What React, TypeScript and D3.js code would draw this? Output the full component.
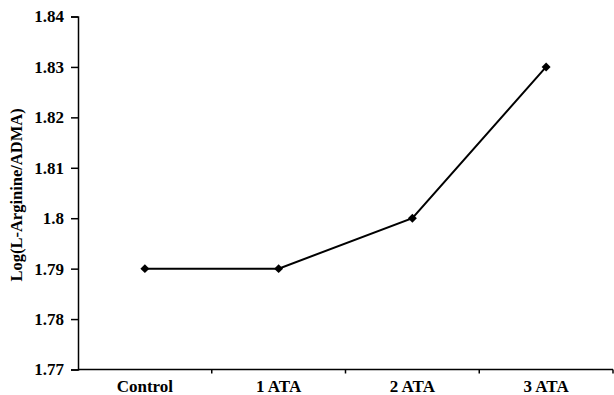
import React, { useEffect, useRef } from "react";
import * as d3 from "d3";

const categories = ["Control", "1 ATA", "2 ATA", "3 ATA"];
const values = [1.79, 1.79, 1.8, 1.83];
const yTicks = [1.77, 1.78, 1.79, 1.8, 1.81, 1.82, 1.83, 1.84];

const App = () => {
  const ref = useRef<SVGSVGElement>(null);

  useEffect(() => {
    const width = 614;
    const height = 395;
    const left = 78;
    const right = 613;
    const top = 16.5;
    const bottom = 369.5;
    const font = "'Liberation Serif', 'Times New Roman', serif";

    const svg = d3.select(ref.current);
    svg.selectAll("*").remove();
    svg.attr("width", width).attr("height", height);

    const x = d3.scaleBand().domain(categories).range([left, right]);
    const y = d3.scaleLinear().domain([1.77, 1.84]).range([bottom, top]);

    // y axis
    const yAxis = svg
      .append("g")
      .attr("transform", "translate(" + left + ",0)")
      .call(
        d3.axisLeft(y)
          .tickValues(yTicks)
          .tickSize(7)
          .tickPadding(7)
          .tickFormat((d) => String(+(+d).toFixed(2)))
      );
    yAxis.select(".domain").attr("stroke", "#000").attr("stroke-width", 1.5);
    yAxis.selectAll(".tick line").attr("stroke", "#000").attr("stroke-width", 1.5);
    yAxis
      .selectAll(".tick text")
      .attr("fill", "#000")
      .style("font-family", font)
      .style("font-weight", "bold")
      .style("font-size", "17px");

    // x axis with ticks between categories
    const xg = svg.append("g");
    xg.append("line")
      .attr("x1", left)
      .attr("x2", right)
      .attr("y1", bottom)
      .attr("y2", bottom)
      .attr("stroke", "#000")
      .attr("stroke-width", 1.5);
    const bounds = categories.map((c) => (x(c) as number) + x.bandwidth());
    xg.selectAll("line.tk")
      .data(bounds)
      .enter()
      .append("line")
      .attr("class", "tk")
      .attr("x1", (d) => d)
      .attr("x2", (d) => d)
      .attr("y1", bottom)
      .attr("y2", bottom + 4)
      .attr("stroke", "#000")
      .attr("stroke-width", 1.5);
    xg.selectAll("text")
      .data(categories)
      .enter()
      .append("text")
      .attr("x", (d) => (x(d) as number) + x.bandwidth() / 2)
      .attr("y", 392)
      .attr("text-anchor", "middle")
      .style("font-family", font)
      .style("font-weight", "bold")
      .style("font-size", "17px")
      .text((d) => d);

    // axis title
    svg
      .append("text")
      .attr("transform", "translate(22,195) rotate(-90)")
      .attr("text-anchor", "middle")
      .style("font-family", font)
      .style("font-weight", "bold")
      .style("font-size", "16.5px")
      .text("Log(L-Arginine/ADMA)");

    const pts = categories.map((c, i) => [
      (x(c) as number) + x.bandwidth() / 2,
      y(values[i]),
    ] as [number, number]);

    svg
      .append("path")
      .attr("d", d3.line()(pts))
      .attr("fill", "none")
      .attr("stroke", "#000")
      .attr("stroke-width", 2);

    svg
      .selectAll("path.mk")
      .data(pts)
      .enter()
      .append("path")
      .attr("class", "mk")
      .attr("d", d3.symbol(d3.symbolSquare, 40)())
      .attr("transform", (d) => "translate(" + d[0] + "," + d[1] + ") rotate(45)")
      .attr("fill", "#000");
  }, []);

  return <svg ref={ref} style={{ position: "absolute", left: 0, top: 0 }} />;
};

export default App;
